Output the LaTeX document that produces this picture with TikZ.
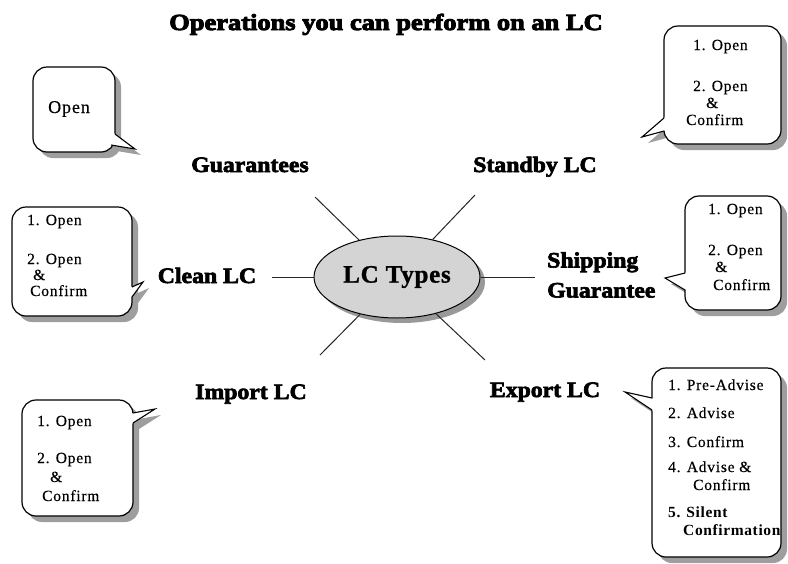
\documentclass[tikz,border=0pt]{standalone}
\usepackage{fontspec}
\setmainfont{Liberation Serif}
\newfontfamily\titlefont{Liberation Serif Bold}[FakeBold=4,FakeStretch=1.15]
\newfontfamily\labelfont{Liberation Serif Bold}[FakeBold=3,FakeStretch=1.08]
\newfontfamily\hubfont{Liberation Serif Bold}[FakeBold=1,LetterSpace=3]
\newfontfamily\notefont{Liberation Serif}[LetterSpace=5,FakeBold=0.4]
\newfontfamily\notebfont{Liberation Serif Bold}[LetterSpace=4]
\usetikzlibrary{shapes.geometric,shadows,fit}

% speech bubble: #1 name, #2 top-left, #3 bottom-right,
% #4 and #5 pointer base points on the border, #6 pointer tip
\newcommand\speechbox[6]{%
  \fill[shadowcol, shift={(6,6)}] #4 -- #6 -- #5 -- cycle;
  \node[speech, fit={#2 #3}] (#1) {};
  \fill[white] #4 -- #6 -- #5 -- (#1.center) -- cycle;
  \draw[speechline] #4 -- #6 -- #5;
}

\begin{document}
\begin{tikzpicture}[x=1pt,y=-1pt,
  shadowcol/.style={fill=black!38},
  speech/.style={draw=black, line width=1.2pt, fill=white, rounded corners=14pt,
    inner sep=0pt,
    drop shadow={shadow xshift=6pt, shadow yshift=-6pt, fill=black!38, opacity=1}},
  speechline/.style={draw=black, line width=1.1pt, line join=miter},
  notetext/.style={font=\notefont\fontsize{15.5}{17}\selectfont, inner sep=0pt,
    anchor=base west},
  notebold/.style={notetext, font=\notebfont\fontsize{15.5}{17}\selectfont},
  typelabel/.style={font=\labelfont\fontsize{22}{30}\selectfont, inner sep=0pt,
    anchor=base},
  spoke/.style={draw=black!85, line width=1pt}]

\fill[white] (0,0) rectangle (788,563);
\useasboundingbox (0,0) rectangle (788,563);

% heading
\node[font=\titlefont\fontsize{23}{27}\selectfont, inner sep=0pt, anchor=base]
  (title) at (386,30) {Operations you can perform on an LC};

% central hub
\node[ellipse, draw=black, line width=1pt, fill=black!17, minimum width=166pt,
  minimum height=82pt, inner sep=0pt,
  drop shadow={shadow xshift=5pt, shadow yshift=-5pt, fill=black!40, opacity=1},
  font=\hubfont\fontsize{25}{30}\selectfont] (lc) at (397,277) {LC Types};

% LC type names
\node[typelabel] (guar) at (250,172) {Guarantees};
\node[typelabel] (standby) at (535,172) {Standby LC};
\node[typelabel] (clean) at (207,283) {Clean LC};
\node[typelabel, align=left, anchor=west] (ship) at (547,275) {Shipping\\Guarantee};
\node[typelabel] (import) at (251,399) {Import LC};
\node[typelabel] (export) at (545,397) {Export LC};

% spokes
\coordinate (sG) at (315,197);
\coordinate (sS) at (475,195);
\coordinate (sC) at (272,277);
\coordinate (sH) at (535,277);
\coordinate (sI) at (320,355);
\coordinate (sE) at (485,360);
\foreach \e in {sG,sS,sC,sH,sI,sE} \draw[spoke] (lc) -- (\e);

% Guarantees
\speechbox{c1}{(33,67)}{(115,152)}{(115,134)}{(111,145)}{(135,149)}
\node[notetext, font=\notefont\fontsize{18}{20}\selectfont] (c1a) at (48,113) {Open};

% Standby LC
\speechbox{c2}{(664,26)}{(781,144)}{(664,118)}{(664,131)}{(642,137)}
\node[notetext] (c2a) at (693,50) {1. Open};
\node[notetext] (c2b) at (693,91) {2. Open};
\node[notetext] (c2c) at (706,108) {\&};
\node[notetext] (c2d) at (686,125) {Confirm};

% Clean LC
\speechbox{c3}{(12,207)}{(132,316)}{(132,287)}{(132,297)}{(143,282)}
\node[notetext] (c3a) at (27,225) {1. Open};
\node[notetext] (c3b) at (27,264) {2. Open};
\node[notetext] (c3c) at (33,280) {\&};
\node[notetext] (c3d) at (30,296) {Confirm};

% Shipping Guarantee
\speechbox{c4}{(685,196)}{(781,310)}{(685,273)}{(685,290)}{(665,278)}
\node[notetext] (c4a) at (708,214) {1. Open};
\node[notetext] (c4b) at (708,255) {2. Open};
\node[notetext] (c4c) at (715,272) {\&};
\node[notetext] (c4d) at (713,290) {Confirm};

% Import LC
\speechbox{c5}{(22,400)}{(133,516)}{(133,413)}{(133,423)}{(155,409)}
\node[notetext] (c5a) at (37,426) {1. Open};
\node[notetext] (c5b) at (37,463) {2. Open};
\node[notetext] (c5c) at (50,482) {\&};
\node[notetext] (c5d) at (42,501) {Confirm};

% Export LC
\speechbox{c6}{(652,368)}{(781,557)}{(652,398)}{(652,410)}{(625,392)}
\node[notetext] (c6a) at (668,390) {1. Pre-Advise};
\node[notetext] (c6b) at (668,418) {2. Advise};
\node[notetext] (c6c) at (668,447) {3. Confirm};
\node[notetext] (c6d) at (668,472) {4. Advise \&};
\node[notetext] (c6e) at (693,490) {Confirm};
\node[notebold] (c6f) at (668,517) {5. Silent};
\node[notebold] (c6g) at (683,535) {Confirmation};

\end{tikzpicture}
\end{document}
